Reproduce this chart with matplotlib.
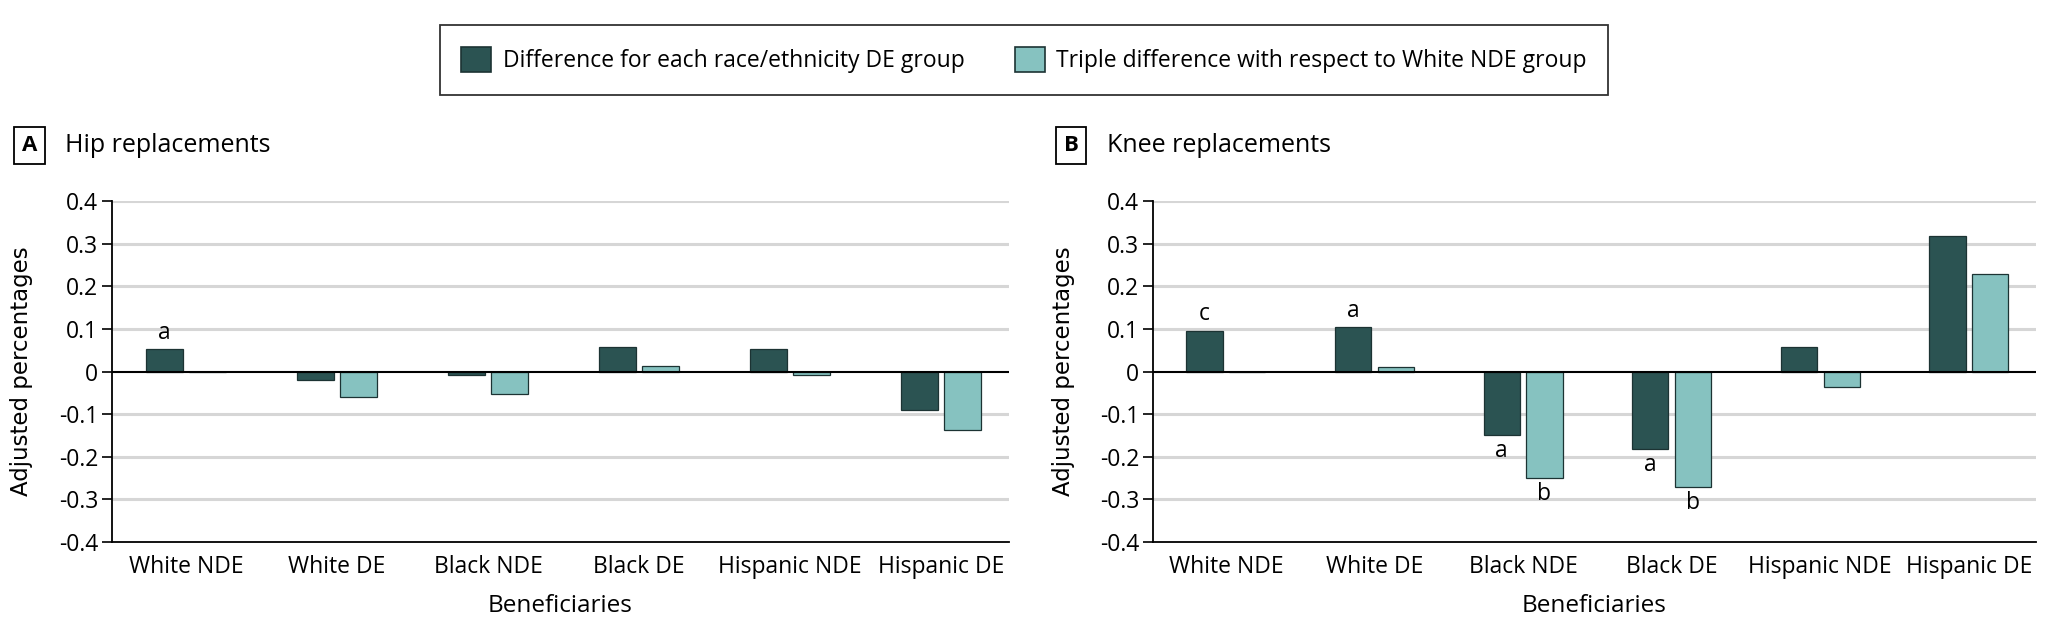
import matplotlib
matplotlib.use("Agg")
import matplotlib.pyplot as plt
import numpy as np
from matplotlib.patches import Patch

plt.rcParams["font.family"] = ["Open Sans", "DejaVu Sans"]

groups = ["White NDE", "White DE", "Black NDE", "Black DE", "Hispanic NDE", "Hispanic DE"]

hip_diff = [0.052, -0.020, -0.007, 0.058, 0.052, -0.091]
hip_triple = [0.0, -0.059, -0.053, 0.013, -0.007, -0.137]

knee_diff = [0.096, 0.105, -0.148, -0.181, 0.057, 0.317]
knee_triple = [0.0, 0.010, -0.250, -0.270, -0.037, 0.228]

# (group index, series, letter)
hip_notes = [(0, "diff", "a")]
knee_notes = [(0, "diff", "c"), (1, "diff", "a"), (2, "diff", "a"), (2, "triple", "b"),
              (3, "diff", "a"), (3, "triple", "b")]

legend_labels = ["Difference for each race/ethnicity DE group",
                 "Triple difference with respect to White NDE group"]
yticks = [-0.4, -0.3, -0.2, -0.1, 0, 0.1, 0.2, 0.3, 0.4]
ytick_labels = ["-0.4", "-0.3", "-0.2", "-0.1", "0", "0.1", "0.2", "0.3", "0.4"]

DARK = "#2b5352"
LIGHT = "#86c2c0"
EDGE = "#1c3333"
FS = 16.5

fig = plt.figure(figsize=(20.48, 6.4), dpi=100)


def panel(rect, letter, title, diff, triple, notes, box_x, title_x):
    ax = fig.add_axes(rect)
    x = np.arange(len(groups))
    w = 0.244
    off = 0.144
    ax.bar(x - off, diff, w, color=DARK, edgecolor=EDGE, linewidth=0.9, zorder=3)
    ax.bar(x + off, triple, w, color=LIGHT, edgecolor=EDGE, linewidth=0.9, zorder=3)
    ax.set_xlim(-0.49, 5.45)
    ax.set_ylim(-0.4, 0.4)
    ax.set_yticks(yticks)
    ax.set_yticklabels(ytick_labels, fontsize=FS)
    ax.set_xticks(x)
    ax.set_xticklabels(groups, fontsize=FS)
    ax.tick_params(axis="x", length=0, pad=9)
    ax.tick_params(axis="y", length=7, width=1.2, color="black", pad=3)
    for g in yticks:
        if g not in (0, -0.4):
            ax.axhline(g, color="#d6d6d6", lw=2.2, zorder=1)
    ax.axhline(0, color="black", lw=1.5, zorder=4)
    for s in ("top", "right"):
        ax.spines[s].set_visible(False)
    ax.spines["left"].set_linewidth(1.3)
    ax.spines["bottom"].set_linewidth(1.3)
    ax.set_ylabel("Adjusted percentages", fontsize=16.5, family="DejaVu Sans")
    ax.yaxis.set_label_coords(-0.088, 0.5)
    ax.set_xlabel("Beneficiaries", fontsize=17.5, labelpad=11)
    for gi, series, txt in notes:
        v = diff[gi] if series == "diff" else triple[gi]
        xp = gi - off if series == "diff" else gi + off
        if v >= 0:
            ax.annotate(txt, (xp, v), xytext=(0, 3), textcoords="offset points",
                        ha="center", va="bottom", fontsize=FS)
        else:
            ax.annotate(txt, (xp, v), xytext=(0, -3), textcoords="offset points",
                        ha="center", va="top", fontsize=FS)
    # panel letter box and title
    fig.text(box_x, 0.773, letter, fontsize=16, weight="bold", ha="center", va="center",
             bbox=dict(boxstyle="square,pad=0.35", fc="white", ec="black", lw=1.3))
    fig.text(title_x, 0.773, title, fontsize=18, ha="left", va="center")
    return ax


panel([0.0547, 0.153, 0.438, 0.533], "A", "Hip replacements", hip_diff, hip_triple,
      hip_notes, 0.0146, 0.0317)
panel([0.563, 0.153, 0.431, 0.533], "B", "Knee replacements", knee_diff, knee_triple,
      knee_notes, 0.523, 0.5405)

handles = [Patch(facecolor=DARK, edgecolor=EDGE, lw=1.2),
           Patch(facecolor=LIGHT, edgecolor=EDGE, lw=1.2)]
leg = fig.legend(handles, legend_labels, loc="center", bbox_to_anchor=(0.5, 0.906),
                 ncol=2, fontsize=FS, frameon=True, fancybox=False,
                 edgecolor="black", handlelength=1.3, handleheight=1.3,
                 handletextpad=0.5, columnspacing=2.2, borderpad=0.95)
leg.get_frame().set_linewidth(1.3)

fig.savefig("out.png", dpi=100, facecolor="white")
